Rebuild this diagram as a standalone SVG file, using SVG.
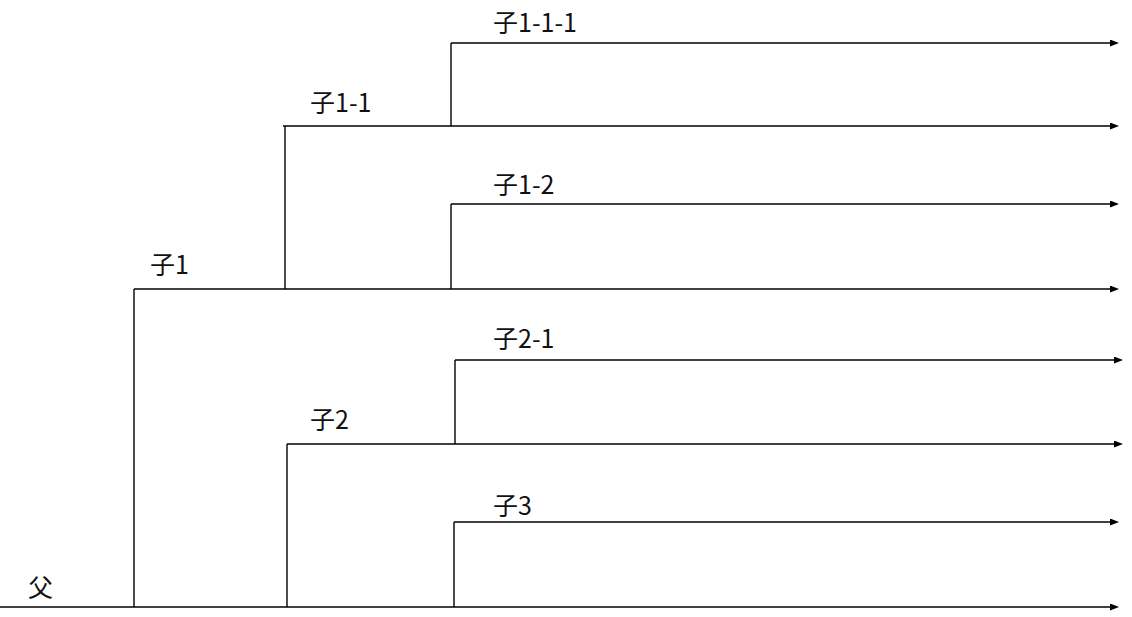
<svg xmlns="http://www.w3.org/2000/svg" width="1132" height="617" viewBox="0 0 1132 617">
<style>
  .ln { stroke: #000; stroke-width: 1.4; fill: none; }
  .arr { marker-end: url(#ah); }
  .lbl { font-family: "Noto Sans CJK SC", "Liberation Sans", sans-serif; font-size: 25px; fill: #111; }
</style>
<defs>
  <marker id="ah" markerUnits="userSpaceOnUse" markerWidth="9" markerHeight="8" refX="3" refY="3.5" orient="auto" viewBox="0 0 9 8">
    <path d="M0,0 L9,3.5 L0,7 z" fill="#000"/>
  </marker>
</defs>
<rect width="1132" height="617" fill="#fff"/>
<g id="connectors">
  <line class="ln" x1="134" y1="289" x2="134" y2="607"/>
  <line class="ln" x1="285" y1="126" x2="285" y2="289"/>
  <line class="ln" x1="451" y1="43" x2="451" y2="126"/>
  <line class="ln" x1="451" y1="204" x2="451" y2="289"/>
  <line class="ln" x1="287" y1="444" x2="287" y2="607"/>
  <line class="ln" x1="455" y1="360" x2="455" y2="444"/>
  <line class="ln" x1="454" y1="522" x2="454" y2="607"/>
</g>
<g id="node-fu">
  <line class="ln arr" x1="0" y1="607" x2="1113" y2="607"/>
  <text class="lbl" x="28" y="597">父</text>
</g>
<g id="node-zi1">
  <line class="ln arr" x1="134" y1="289" x2="1113" y2="289"/>
  <text class="lbl" x="150" y="274">子1</text>
</g>
<g id="node-zi1-1">
  <line class="ln arr" x1="283" y1="126" x2="1113" y2="126"/>
  <text class="lbl" x="310" y="112">子1-1</text>
</g>
<g id="node-zi1-1-1">
  <line class="ln arr" x1="451" y1="43" x2="1113" y2="43"/>
  <text class="lbl" x="493" y="32">子1-1-1</text>
</g>
<g id="node-zi1-2">
  <line class="ln arr" x1="451" y1="204" x2="1113" y2="204"/>
  <text class="lbl" x="493" y="194">子1-2</text>
</g>
<g id="node-zi2">
  <line class="ln arr" x1="287" y1="444" x2="1117" y2="444"/>
  <text class="lbl" x="310" y="429">子2</text>
</g>
<g id="node-zi2-1">
  <line class="ln arr" x1="455" y1="360" x2="1117" y2="360"/>
  <text class="lbl" x="493" y="348">子2-1</text>
</g>
<g id="node-zi3">
  <line class="ln arr" x1="454" y1="522" x2="1113" y2="522"/>
  <text class="lbl" x="493" y="515">子3</text>
</g>
</svg>
